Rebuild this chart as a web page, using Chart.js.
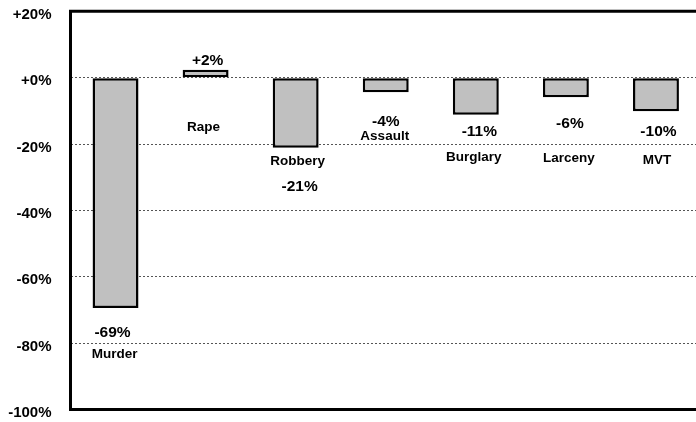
<!DOCTYPE html>
<html>
<head>
<meta charset="utf-8">
<script src="https://cdn.jsdelivr.net/npm/chart.js@4/dist/chart.umd.min.js"></script>
<style>
  html, body { margin: 0; padding: 0; background: #fff; overflow: hidden; }
  #wrap { width: 701px; height: 422px; }
</style>
</head>
<body>
<div id="wrap"><canvas id="c" width="701" height="422"></canvas></div>
<script>
// ---- data ----
const categories = ['Murder', 'Rape', 'Robbery', 'Assault', 'Burglary', 'Larceny', 'MVT'];
const changes = [-69.4, 2.4, -21.1, -4.4, -11.2, -5.9, -10.1];
const valueLabels = ['-69%', '+2%', '-21%', '-4%', '-11%', '-6%', '-10%'];
const yTicks = [20, 0, -20, -40, -60, -80, -100];

// ---- label layout (pixel offsets from bar end; style only) ----
const labelLayout = [
  { v: [-3, 23], n: [-1, 45] },
  { v: [2, -10], n: [-2, 56] },
  { v: [4, 38], n: [2, 12] },
  { v: [0, 28], n: [-1, 42.5] },
  { v: [3.5, 16], n: [-2, 41] },
  { v: [4, 25], n: [3, 60] },
  { v: [2.5, 19.5], n: [1, 48] }
];

const FONT = '"Liberation Sans", Arial, Helvetica, sans-serif';

const frameAndLabels = {
  id: 'frameAndLabels',
  afterDatasetsDraw(chart) {
    const ctx = chart.ctx;
    const a = chart.chartArea;
    ctx.save();
    // frame: top, left, bottom
    ctx.strokeStyle = '#000';
    ctx.lineWidth = 3;
    ctx.beginPath();
    ctx.moveTo(chart.width + 5, a.top);
    ctx.lineTo(a.left, a.top);
    ctx.lineTo(a.left, a.bottom);
    ctx.lineTo(chart.width + 5, a.bottom);
    ctx.stroke();

    // labels
    const meta = chart.getDatasetMeta(0);
    ctx.fillStyle = '#000';
    ctx.textAlign = 'center';
    ctx.textBaseline = 'alphabetic';
    meta.data.forEach((el, i) => {
      const L = labelLayout[i];
      const vs = 15.5, ns = L.nSize || 13.5;
      ctx.font = 'bold ' + vs + 'px ' + FONT;
      ctx.fillText(valueLabels[i], el.x + L.v[0], el.y + L.v[1] + 0.36 * vs);
      ctx.font = 'bold ' + ns + 'px ' + FONT;
      ctx.fillText(categories[i], el.x + L.n[0], el.y + L.n[1] + 0.36 * ns);
    });
    ctx.restore();
  }
};

new Chart(document.getElementById('c'), {
  type: 'bar',
  data: {
    labels: categories,
    datasets: [{
      data: changes,
      backgroundColor: '#c0c0c0',
      borderColor: '#000',
      borderWidth: 2.5,
      borderSkipped: false,
      barPercentage: 0.51,
      categoryPercentage: 1.0
    }]
  },
  options: {
    responsive: false,
    animation: false,
    devicePixelRatio: 1,
    layout: { padding: { top: 11.3, bottom: 12.5, left: 0, right: 0 } },
    plugins: { legend: { display: false }, tooltip: { enabled: false } },
    scales: {
      x: { display: false },
      y: {
        min: -100,
        max: 20,
        afterFit(scale) {
          scale.width = 70.5;
          scale.paddingTop = 0;
          scale.paddingBottom = 0;
        },
        afterBuildTicks(scale) { scale.ticks = yTicks.slice().reverse().map(v => ({ value: v })); },
        ticks: {
          padding: 19,
          color: '#000',
          font: { family: FONT, size: 15, weight: 'bold', lineHeight: '7px' },
          callback: v => ['', (v >= 0 ? '+' : '') + v + '%']
        },
        grid: {
          drawTicks: false,
          color: '#555',
          lineWidth: 1,
          borderDash: [2, 2]
        },
        border: { display: false, dash: [2, 2] }
      }
    }
  },
  plugins: [frameAndLabels]
});
</script>
</body>
</html>
